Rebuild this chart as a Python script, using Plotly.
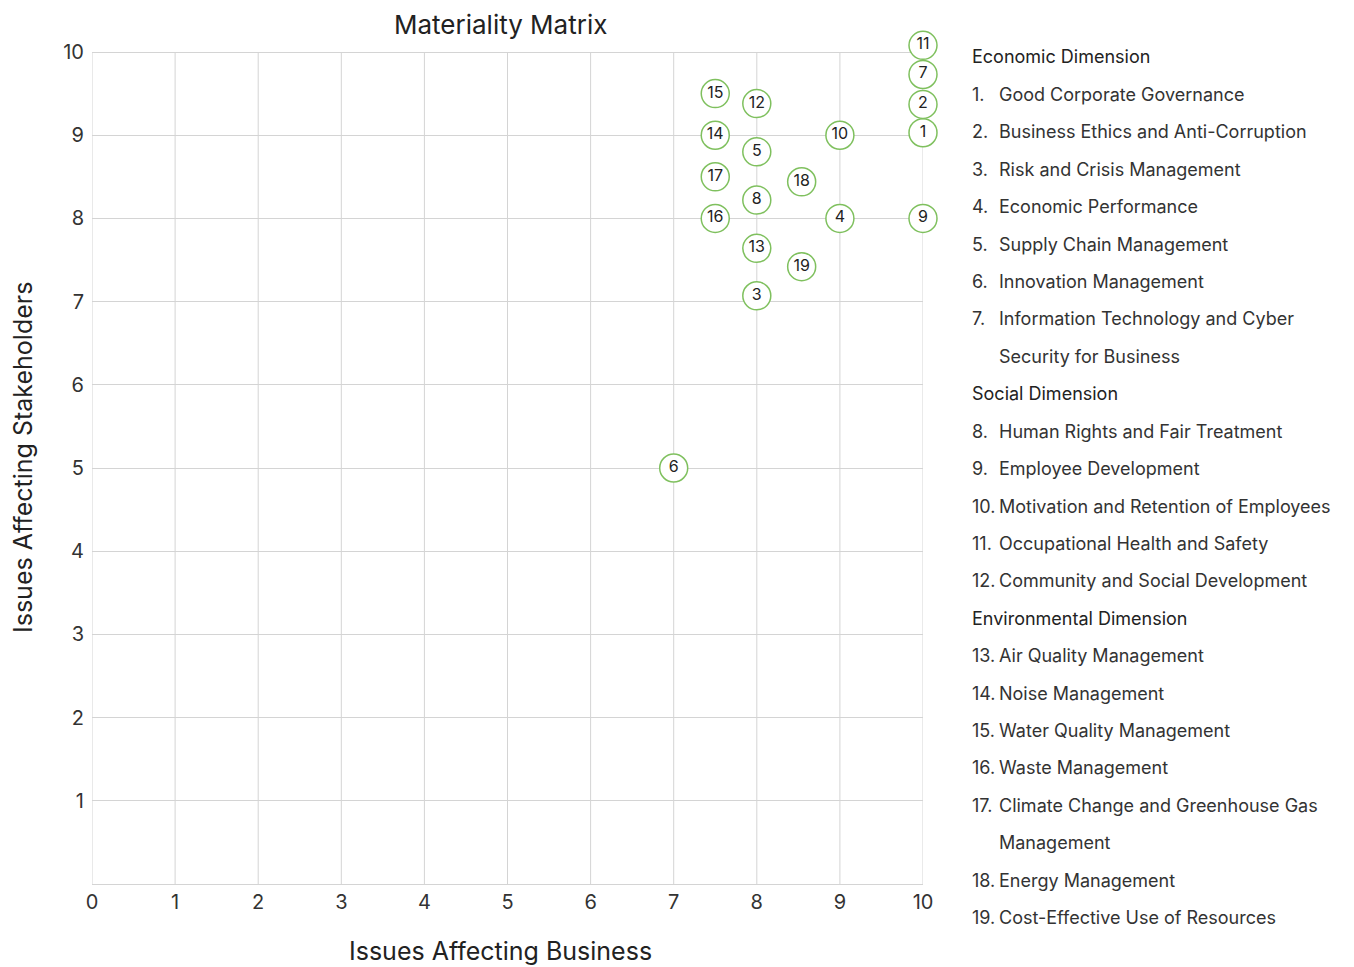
import plotly.graph_objects as go

# ---- data ----
issue_ids = [str(i) for i in range(1, 20)]
issue_names = [
    "Good Corporate Governance",
    "Business Ethics and Anti-Corruption",
    "Risk and Crisis Management",
    "Economic Performance",
    "Supply Chain Management",
    "Innovation Management",
    "Information Technology and Cyber<br>Security for Business",
    "Human Rights and Fair Treatment",
    "Employee Development",
    "Motivation and Retention of Employees",
    "Occupational Health and Safety",
    "Community and Social Development",
    "Air Quality Management",
    "Noise Management",
    "Water Quality Management",
    "Waste Management",
    "Climate Change and Greenhouse Gas<br>Management",
    "Energy Management",
    "Cost-Effective Use of Resources",
]
business_scores = [10, 10, 8, 9, 8, 7, 10, 8, 10, 9, 10, 8, 8, 7.5, 7.5, 7.5, 7.5, 8.54, 8.54]
stakeholder_scores = [9.03, 9.37, 7.07, 8.0, 8.8, 5.0, 9.73, 8.22, 8.0, 9.0, 10.08, 9.38,
                      7.64, 9.0, 9.5, 8.0, 8.5, 8.44, 7.42]
dimension_names = ["Economic Dimension", "Social Dimension", "Environmental Dimension"]
dimension_starts = [1, 8, 13]  # first issue number of each dimension

x_ticks = list(range(0, 11))
y_ticks = list(range(1, 11))
axis_max = 10

FONT = "Inter, Roboto, sans-serif"
GREEN = "#7fc05e"
TEXT = "#222222"
GRID = "#d4d4d4"

OFF = 8  # page body margin
W, H = 1354, 967
L = 92 - OFF
PLOT_RIGHT = 923 - OFF
PLOT_BOTTOM = 884 - OFF
T = 23
R = W - PLOT_RIGHT
B = H - PLOT_BOTTOM
PW, PH = PLOT_RIGHT - L, PLOT_BOTTOM - T
Y_TOP = axis_max * PH / 832.0  # keep 10 at the same pixel row, leave head-room for marks

fig = go.Figure()
fig.add_trace(go.Scatter(
    x=business_scores, y=stakeholder_scores, mode="markers+text",
    text=issue_ids, textposition="middle center",
    textfont=dict(family=FONT, size=16, color=TEXT),
    marker=dict(size=28, color="white", line=dict(color=GREEN, width=1.5)),
    cliponaxis=False, showlegend=False, hoverinfo="skip",
))

# vertical grid lines only up to the top of the scale
for xv in x_ticks:
    fig.add_shape(type="line", x0=xv, x1=xv, y0=0, y1=axis_max, xref="x", yref="y",
                  line=dict(color=GRID, width=1), layer="below")


def px_x(px):
    return (px - OFF - L) / PW


def px_y(py):
    return (PLOT_BOTTOM - (py - OFF)) / PH


# ---- right-hand legend as text ----
lines = []  # (number, text, is_header)
for idx, name in enumerate(issue_names):
    num = idx + 1
    if num in dimension_starts:
        lines.append(("", dimension_names[dimension_starts.index(num)], True))
    parts = name.split("<br>")
    for k, p in enumerate(parts):
        lines.append((f"{num}." if k == 0 else "", p, False))

y0_px, step_px = 57, 37.42
num_px, txt_px = 970, 997
for i, (num, txt, hdr) in enumerate(lines):
    yp = px_y(y0_px + step_px * i)
    if hdr:
        fig.add_annotation(x=px_x(num_px), y=yp, xref="paper", yref="paper",
                           text=txt, showarrow=False, xanchor="left", yanchor="middle",
                           font=dict(family=FONT, size=18, color=TEXT))
    else:
        if num:
            fig.add_annotation(x=px_x(num_px), y=yp, xref="paper", yref="paper",
                               text=num, showarrow=False, xanchor="left", yanchor="middle",
                               font=dict(family=FONT, size=18, color="#333333"))
        fig.add_annotation(x=px_x(txt_px), y=yp, xref="paper", yref="paper",
                           text=txt, showarrow=False, xanchor="left", yanchor="middle",
                           font=dict(family=FONT, size=18, color="#333333"))

# chart title (kept fully inside the figure)
fig.add_annotation(x=px_x(500), y=px_y(OFF), xref="paper", yref="paper",
                   text="Materiality Matrix", showarrow=False,
                   xanchor="center", yanchor="top", borderpad=0,
                   font=dict(family=FONT, size=26, color=TEXT))

# axis titles
fig.add_annotation(x=px_x(500), y=px_y(951), xref="paper", yref="paper",
                   text="Issues Affecting Business", showarrow=False,
                   xanchor="center", yanchor="middle",
                   font=dict(family=FONT, size=25, color=TEXT))
fig.add_annotation(x=px_x(23), y=px_y(458), xref="paper", yref="paper",
                   text="Issues Affecting Stakeholders", textangle=-90, showarrow=False,
                   xanchor="center", yanchor="middle",
                   font=dict(family=FONT, size=25, color=TEXT))

fig.update_layout(
    width=W, height=H,
    margin=dict(l=L, r=R, t=T, b=B, pad=0),
    paper_bgcolor="white", plot_bgcolor="white",
    xaxis=dict(range=[0, axis_max], tickvals=x_ticks, ticktext=[str(v) for v in x_ticks],
               showgrid=False, zeroline=False,
               showline=True, linecolor=GRID, linewidth=1, ticks="",
               tickfont=dict(family=FONT, size=20, color="#333333")),
    yaxis=dict(range=[0, Y_TOP], tickvals=y_ticks, ticktext=[str(v) for v in y_ticks],
               showgrid=True, gridcolor=GRID, gridwidth=1, zeroline=False,
               showline=False, ticks="", ticklabelstandoff=7,
               tickfont=dict(family=FONT, size=20, color="#333333")),
)

fig.write_html("out.html")
